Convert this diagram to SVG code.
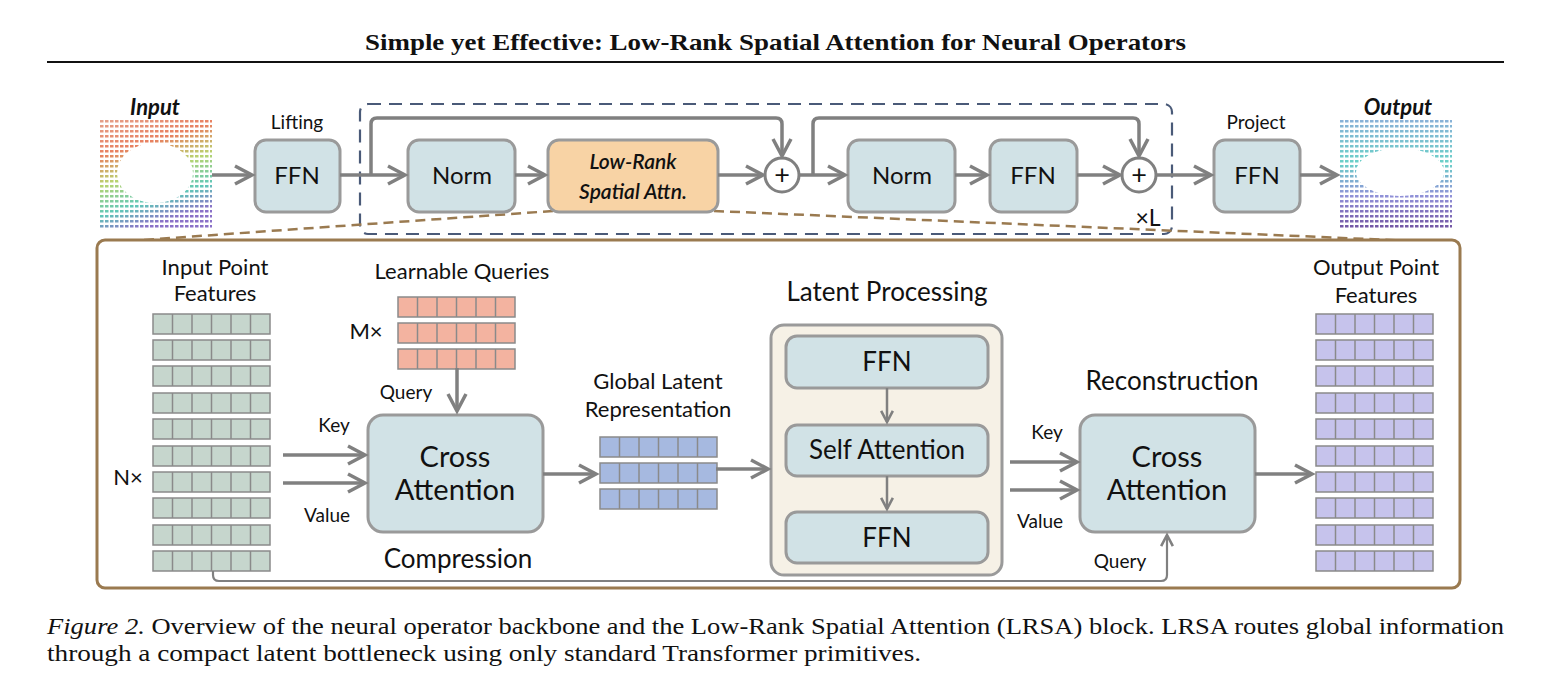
<svg xmlns="http://www.w3.org/2000/svg" xmlns:xlink="http://www.w3.org/1999/xlink" width="1551" height="683" viewBox="0 0 1551 683">
<style>
.t{font-family:Lato,"Open Sans","Liberation Sans",sans-serif;fill:#111;text-anchor:middle}
.box{fill:#d1e2e6;stroke:#9a9a9a;stroke-width:3}
.ln{fill:none;stroke:#808080;stroke-width:3.5}
.cell{stroke:#8a8a8a;stroke-width:1.5}
.g{fill:#c6d6cd}.q{fill:#f3b3a0}.l{fill:#a6b9e0}.o{fill:#c6c3ec}
.serif{font-family:"Liberation Serif","DejaVu Serif",serif;fill:#111}
</style>
<defs>
<marker id="ah" viewBox="0 0 20 20" refX="18" refY="10" markerWidth="20" markerHeight="20" markerUnits="userSpaceOnUse" orient="auto" overflow="visible">
<polyline points="1,1 18,10 1,19" fill="none" stroke="#808080" stroke-width="3.5"/>
</marker>
<marker id="ahs" viewBox="0 0 20 20" refX="18" refY="10" markerWidth="13" markerHeight="13" markerUnits="userSpaceOnUse" orient="auto" overflow="visible">
<polyline points="1,1 18,10 1,19" fill="none" stroke="#808080" stroke-width="4"/>
</marker>
<g id="row"><rect x="0" y="0" width="117" height="20"/><path d="M19.5 0v20M39 0v20M58.5 0v20M78 0v20M97.5 0v20" fill="none"/></g>
<pattern id="dots" width="5" height="5" patternUnits="userSpaceOnUse"><rect x="0" y="0" width="3.5" height="2.5" fill="#fff"/></pattern>
<mask id="m1"><rect x="100" y="120" width="112" height="110" fill="url(#dots)"/><ellipse cx="155" cy="173" rx="38" ry="30" fill="#000"/></mask>
<mask id="m2"><rect x="1340" y="118" width="112" height="112" fill="url(#dots)"/><ellipse cx="1400" cy="172" rx="44" ry="24" fill="#000"/></mask>
<linearGradient id="gi" x1="0" y1="0" x2="0.3" y2="1"><stop offset="0" stop-color="#e4a08a"/><stop offset="0.3" stop-color="#e88060"/><stop offset="0.55" stop-color="#b8d470"/><stop offset="0.8" stop-color="#60c8b8"/><stop offset="1" stop-color="#8a70c8"/></linearGradient>
<linearGradient id="go" x1="0" y1="0" x2="0" y2="1"><stop offset="0" stop-color="#8ab0d8"/><stop offset="0.4" stop-color="#6ad0c8"/><stop offset="0.7" stop-color="#9090d8"/><stop offset="1" stop-color="#7050a0"/></linearGradient>
</defs>
<rect width="1551" height="683" fill="#fff"/>
<text x="365" y="50" class="serif" font-size="23" font-weight="bold" textLength="821" lengthAdjust="spacingAndGlyphs">Simple yet Effective: Low-Rank Spatial Attention for Neural Operators</text>
<line x1="47" y1="62" x2="1504" y2="62" stroke="#111" stroke-width="2"/>

<g id="input"><rect x="100" y="120" width="112" height="110" fill="url(#gi)" mask="url(#m1)"/><text x="155" y="115" class="t" font-size="22" font-style="italic" font-weight="bold">Input</text></g>
<g id="output"><rect x="1340" y="118" width="112" height="112" fill="url(#go)" mask="url(#m2)"/><text x="1398" y="115" class="t" font-size="22" font-style="italic" font-weight="bold">Output</text></g>

<g id="loop"><rect x="360" y="104" width="812" height="130" rx="8" fill="none" stroke="#4a5a78" stroke-width="2.2" stroke-dasharray="13,8"/><text x="1148" y="226" class="t" font-size="23">×L</text></g>
<g id="zoomlines" fill="none" stroke="#9a7a50" stroke-width="2.5" stroke-dasharray="10,6"><line x1="553" y1="211" x2="100" y2="243"/><line x1="714" y1="211" x2="1460" y2="243"/></g>

<g id="lifting"><rect class="box" x="255" y="140" width="85" height="72" rx="11"/><text x="297" y="184" class="t" font-size="24">FFN</text><text x="297" y="129" class="t" font-size="19">Lifting</text></g>
<g id="norm1"><rect class="box" x="408" y="140" width="107" height="72" rx="11"/><text x="462" y="184" class="t" font-size="24">Norm</text></g>
<g id="lrsa"><rect x="548" y="140" width="170" height="72" rx="11" fill="#f8d3a5" stroke="#9a9a9a" stroke-width="3"/><text x="633" y="169" class="t" font-size="21" font-style="italic" font-weight="600">Low-Rank</text><text x="633" y="199" class="t" font-size="21" font-style="italic" font-weight="600">Spatial Attn.</text></g>
<g id="plus1"><circle cx="782" cy="175" r="17" fill="#fff" stroke="#808080" stroke-width="3"/><text x="782" y="184" class="t" font-size="27">+</text></g>
<g id="norm2"><rect class="box" x="848" y="140" width="107" height="72" rx="11"/><text x="902" y="184" class="t" font-size="24">Norm</text></g>
<g id="ffn2"><rect class="box" x="990" y="140" width="87" height="72" rx="11"/><text x="1033" y="184" class="t" font-size="24">FFN</text></g>
<g id="plus2"><circle cx="1139" cy="175" r="17" fill="#fff" stroke="#808080" stroke-width="3"/><text x="1139" y="184" class="t" font-size="27">+</text></g>
<g id="project"><rect class="box" x="1214" y="140" width="86" height="72" rx="11"/><text x="1257" y="184" class="t" font-size="24">FFN</text><text x="1256" y="129" class="t" font-size="19">Project</text></g>

<g id="lower"><rect x="97" y="240" width="1363" height="348" rx="8" fill="#fff" stroke="#9a7a50" stroke-width="3"/></g>

<g id="inputfeat" class="cell g">
<use xlink:href="#row" x="153" y="314"/><use xlink:href="#row" x="153" y="340"/><use xlink:href="#row" x="153" y="366"/><use xlink:href="#row" x="153" y="393"/><use xlink:href="#row" x="153" y="419"/><use xlink:href="#row" x="153" y="446"/><use xlink:href="#row" x="153" y="472"/><use xlink:href="#row" x="153" y="498"/><use xlink:href="#row" x="153" y="525"/><use xlink:href="#row" x="153" y="551"/>
</g>
<g id="inputlbl"><text x="215" y="275" class="t" font-size="22">Input Point</text><text x="215" y="301" class="t" font-size="22">Features</text><text x="128" y="485" class="t" font-size="22">N×</text></g>
<g id="queries"><g class="cell q"><use xlink:href="#row" x="398" y="297"/><use xlink:href="#row" x="398" y="323"/><use xlink:href="#row" x="398" y="349"/></g><text x="462" y="279" class="t" font-size="22">Learnable Queries</text><text x="366" y="339" class="t" font-size="22">M×</text></g>
<g id="cross1"><rect class="box" x="368" y="415" width="175" height="117" rx="15"/><text x="455" y="467" class="t" font-size="29">Cross</text><text x="455" y="500" class="t" font-size="29">Attention</text><text x="458" y="568" class="t" font-size="26">Compression</text></g>
<g id="latent"><g class="cell l"><use xlink:href="#row" x="600" y="437"/><use xlink:href="#row" x="600" y="463"/><use xlink:href="#row" x="600" y="489"/></g><text x="658" y="389" class="t" font-size="22">Global Latent</text><text x="658" y="417" class="t" font-size="22">Representation</text></g>
<g id="latentproc"><rect x="771" y="325" width="231" height="250" rx="13" fill="#f6f1e6" stroke="#9a9a9a" stroke-width="3"/><text x="887" y="301" class="t" font-size="26">Latent Processing</text></g>
<g id="lffn1"><rect class="box" x="786" y="336" width="202" height="52" rx="11"/><text x="887" y="371" class="t" font-size="26">FFN</text></g>
<g id="lsa"><rect class="box" x="786" y="425" width="202" height="51" rx="11"/><text x="887" y="459" class="t" font-size="26">Self Attention</text></g>
<g id="lffn2"><rect class="box" x="786" y="512" width="202" height="51" rx="11"/><text x="887" y="547" class="t" font-size="26">FFN</text></g>
<g id="cross2"><rect class="box" x="1080" y="415" width="175" height="117" rx="15"/><text x="1167" y="467" class="t" font-size="29">Cross</text><text x="1167" y="500" class="t" font-size="29">Attention</text><text x="1172" y="390" class="t" font-size="26">Reconstruction</text></g>
<g id="outfeat"><g class="cell o">
<use xlink:href="#row" x="1316" y="314"/><use xlink:href="#row" x="1316" y="340"/><use xlink:href="#row" x="1316" y="366"/><use xlink:href="#row" x="1316" y="393"/><use xlink:href="#row" x="1316" y="419"/><use xlink:href="#row" x="1316" y="446"/><use xlink:href="#row" x="1316" y="472"/><use xlink:href="#row" x="1316" y="498"/><use xlink:href="#row" x="1316" y="525"/><use xlink:href="#row" x="1316" y="551"/></g>
<text x="1376" y="275" class="t" font-size="22">Output Point</text><text x="1376" y="303" class="t" font-size="22">Features</text></g>

<g id="connectors" class="ln">
<line x1="212" y1="175" x2="252" y2="175" marker-end="url(#ah)"/>
<line x1="340" y1="175" x2="405" y2="175" marker-end="url(#ah)"/>
<path d="M371 175V124Q371 118 377 118H776Q782 118 782 124V156" marker-end="url(#ah)"/>
<line x1="515" y1="175" x2="545" y2="175" marker-end="url(#ah)"/>
<line x1="718" y1="175" x2="763" y2="175" marker-end="url(#ah)"/>
<line x1="799" y1="175" x2="845" y2="175" marker-end="url(#ah)"/>
<path d="M813 175V124Q813 118 819 118H1133Q1139 118 1139 124V156" marker-end="url(#ah)"/>
<line x1="955" y1="175" x2="987" y2="175" marker-end="url(#ah)"/>
<line x1="1077" y1="175" x2="1120" y2="175" marker-end="url(#ah)"/>
<line x1="1156" y1="175" x2="1211" y2="175" marker-end="url(#ah)"/>
<line x1="1300" y1="175" x2="1337" y2="175" marker-end="url(#ah)"/>
<line x1="457" y1="368" x2="457" y2="411" marker-end="url(#ah)"/>
<line x1="283" y1="455" x2="365" y2="455" marker-end="url(#ah)"/>
<line x1="283" y1="483" x2="365" y2="483" marker-end="url(#ah)"/>
<line x1="543" y1="474" x2="596" y2="474" marker-end="url(#ah)"/>
<line x1="716" y1="469" x2="768" y2="469" marker-end="url(#ah)"/>
<line x1="887" y1="388" x2="887" y2="422" marker-end="url(#ahs)" stroke-width="2.5"/>
<line x1="887" y1="476" x2="887" y2="509" marker-end="url(#ahs)" stroke-width="2.5"/>
<line x1="1010" y1="462" x2="1077" y2="462" marker-end="url(#ah)"/>
<line x1="1010" y1="490" x2="1077" y2="490" marker-end="url(#ah)"/>
<line x1="1255" y1="474" x2="1312" y2="474" marker-end="url(#ah)"/>
<path d="M213 571V575Q213 581 219 581H1161Q1167 581 1167 575V535" stroke-width="2.2" marker-end="url(#ahs)"/>
</g>
<g id="edgelabels">
<text x="406" y="399" class="t" font-size="19">Query</text>
<text x="334" y="432" class="t" font-size="19">Key</text>
<text x="327" y="522" class="t" font-size="19">Value</text>
<text x="1047" y="439" class="t" font-size="19">Key</text>
<text x="1040" y="528" class="t" font-size="19">Value</text>
<text x="1120" y="568" class="t" font-size="19">Query</text>
</g>
<text x="47" y="634" class="serif" font-size="24" textLength="1457" lengthAdjust="spacingAndGlyphs"><tspan font-style="italic">Figure 2.</tspan> Overview of the neural operator backbone and the Low-Rank Spatial Attention (LRSA) block. LRSA routes global information</text>
<text x="47" y="661" class="serif" font-size="24" textLength="874" lengthAdjust="spacingAndGlyphs">through a compact latent bottleneck using only standard Transformer primitives.</text>
</svg>
